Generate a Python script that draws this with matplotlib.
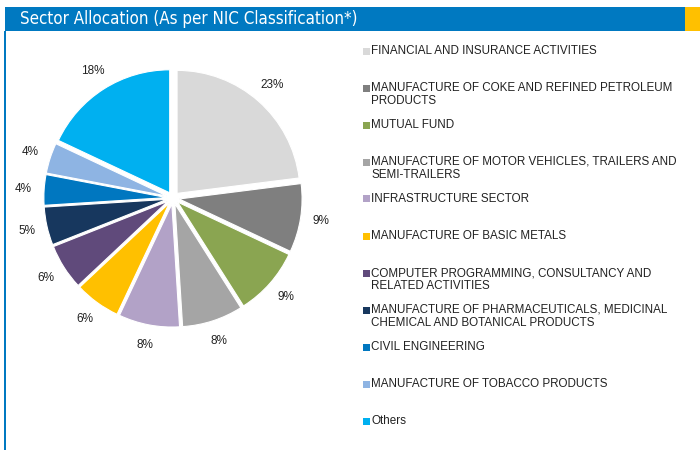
import matplotlib
matplotlib.use("Agg")
import matplotlib.pyplot as plt
from matplotlib.patches import Rectangle

categories = [
    "FINANCIAL AND INSURANCE ACTIVITIES",
    "MANUFACTURE OF COKE AND REFINED PETROLEUM\nPRODUCTS",
    "MUTUAL FUND",
    "MANUFACTURE OF MOTOR VEHICLES, TRAILERS AND\nSEMI-TRAILERS",
    "INFRASTRUCTURE SECTOR",
    "MANUFACTURE OF BASIC METALS",
    "COMPUTER PROGRAMMING, CONSULTANCY AND\nRELATED ACTIVITIES",
    "MANUFACTURE OF PHARMACEUTICALS, MEDICINAL\nCHEMICAL AND BOTANICAL PRODUCTS",
    "CIVIL ENGINEERING",
    "MANUFACTURE OF TOBACCO PRODUCTS",
    "Others",
]
values = [23, 9, 9, 8, 8, 6, 6, 5, 4, 4, 18]
colors = ["#D9D9D9", "#7F7F7F", "#8AA551", "#A5A5A5", "#B2A2C7", "#FFC000",
          "#604A7B", "#17375E", "#0077C0", "#8EB4E3", "#00B0F0"]
title = "Sector Allocation (As per NIC Classification*)"

W, H = 700, 450
fig = plt.figure(figsize=(7, 4.5), dpi=100)
fig.patch.set_facecolor("white")

# header bar
fig.patches.append(Rectangle((5 / W, 1 - 31 / H), 680 / W, 24 / H, transform=fig.transFigure,
                             facecolor="#0079C1", edgecolor="none"))
fig.patches.append(Rectangle((685 / W, 1 - 31 / H), 15 / W, 24 / H, transform=fig.transFigure,
                             facecolor="#FFC000", edgecolor="none"))
fig.patches.append(Rectangle((4 / W, 0), 2 / W, 1 - 31 / H, transform=fig.transFigure,
                             facecolor="#0079C1", edgecolor="none"))
fig.text(20 / W, 1 - 19 / H, title, color="white", fontsize=12.2, va="center", ha="left",
         family="DejaVu Sans", fontstretch="condensed")

# pie
cx, cy, r = 173, 198, 123
lim = 1.5
side = 2 * lim * r
ax = fig.add_axes([(cx - side / 2) / W, (H - cy - side / 2) / H, side / W, side / H])
ax.pie(values, colors=colors, startangle=90, counterclock=False,
       explode=[0.05] * len(values), radius=1,
       autopct=lambda p: f"{p:.0f}%", pctdistance=1.17,
       wedgeprops=dict(edgecolor="white", linewidth=0.8),
       textprops=dict(fontsize=8.5, color="#222222", family="Liberation Sans"))
ax.set_xlim(-lim, lim)
ax.set_ylim(-lim, lim)
ax.set_aspect("equal")
ax.axis("off")

# legend
y0 = 51
step = 37
for i, (lab, col) in enumerate(zip(categories, colors)):
    y = y0 + i * step
    fig.patches.append(Rectangle((363 / W, 1 - (y + 3.5) / H), 7 / W, 7 / H, transform=fig.transFigure,
                                 facecolor=col, edgecolor="none"))
    fig.text(371 / W, 1 - (y - 6) / H, lab, fontsize=8.4, va="top", ha="left", color="#222222",
             family="Liberation Sans", linespacing=1.15)

fig.savefig("out.png", dpi=100)
